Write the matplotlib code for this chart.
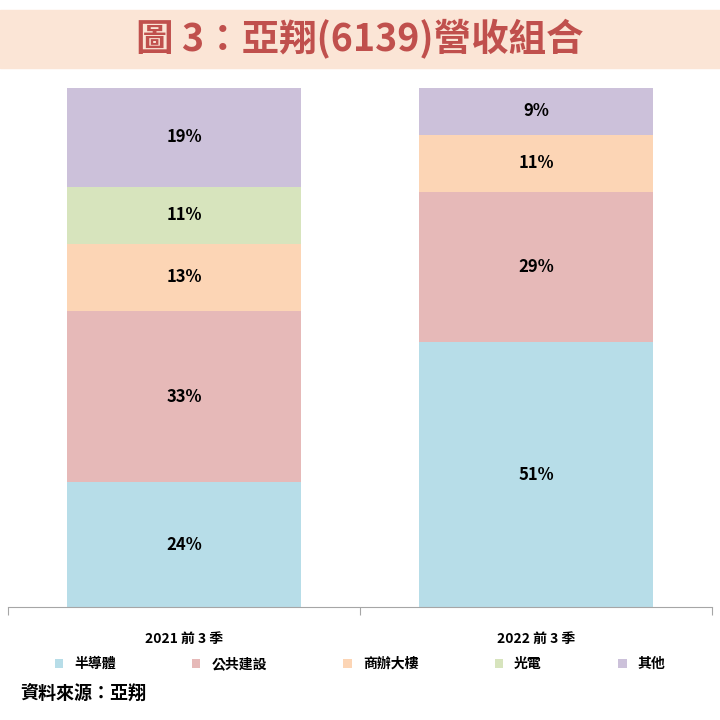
import matplotlib
matplotlib.use("Agg")
import matplotlib.pyplot as plt
from matplotlib.patches import Rectangle

plt.rcParams['font.family'] = ['Noto Sans CJK TC', 'DejaVu Sans']

categories = ['2021 前 3 季', '2022 前 3 季']
series = ['半導體', '公共建設', '商辦大樓', '光電', '其他']
values = {
    '半導體': [24, 51],
    '公共建設': [33, 29],
    '商辦大樓': [13, 11],
    '光電': [11, 0],
    '其他': [19, 9],
}
colors = ['#b7dde8', '#e6b9b8', '#fcd5b5', '#d7e4bd', '#ccc1da']

fig = plt.figure(figsize=(7.2, 7.2), dpi=100)
fig.patches.append(Rectangle((0, 1 - 68/720), 1, 58/720, transform=fig.transFigure,
                             color='#fbe5d6', zorder=0))
fig.text(0.5, 1 - 39/720, '圖 3：亞翔(6139)營收組合', ha='center', va='center',
         fontsize=27, fontweight='bold', color='#c0504d')

ax = fig.add_axes([8/720, 1 - 607/720, 704/720, 519/720])
x = list(range(len(categories)))
bottom = [0] * len(categories)
for s, c in zip(series, colors):
    v = values[s]
    ax.bar(x, v, width=0.665, bottom=bottom, color=c, label=s)
    for i, val in enumerate(v):
        if val > 0:
            ax.text(x[i], bottom[i] + val / 2, f'{val}%', ha='center', va='center',
                    fontsize=12, fontweight='bold', color='black')
    bottom = [b + val for b, val in zip(bottom, v)]

ax.set_xlim(-0.5, 1.5)
ax.set_ylim(0, 100)
ax.set_yticks([])
for sp in ['top', 'right', 'left']:
    ax.spines[sp].set_visible(False)
ax.spines['bottom'].set_color('#a6a6a6')
ax.set_xticks([-0.5, 0.5, 1.5], minor=False)
ax.set_xticklabels([])
ax.tick_params(axis='x', which='major', length=6, color='#a6a6a6')
ax.set_xticks(x, minor=True)
ax.set_xticklabels(categories, minor=True, fontsize=10, fontweight='bold')
ax.tick_params(axis='x', which='minor', length=0, pad=18)

fig.legend(loc='center', bbox_to_anchor=(0.5, 1 - 664/720), ncol=5, frameon=False,
           fontsize=10, handlelength=0.6, handleheight=0.6, columnspacing=5.5,
           prop={'weight': 'bold', 'size': 10})
fig.text(20/720, 1 - 693/720, '資料來源：亞翔', ha='left', va='center',
         fontsize=13, fontweight='bold', color='black')

fig.savefig('out.png', dpi=100)
